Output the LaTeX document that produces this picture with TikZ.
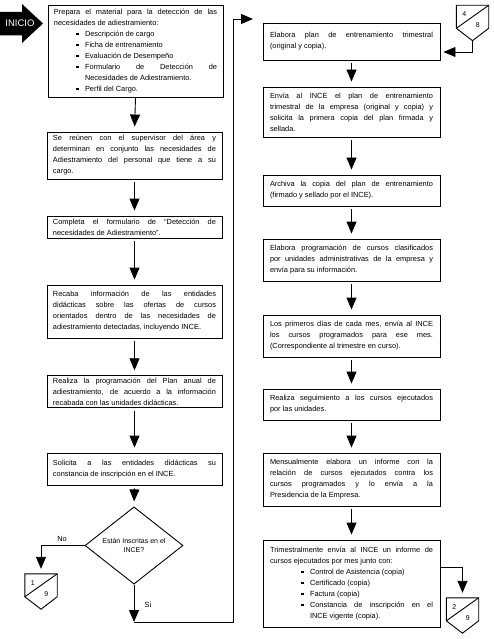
\documentclass[tikz,border=0pt]{standalone}
\usepackage{fontspec}
\setmainfont{Liberation Sans}
\usetikzlibrary{shapes.geometric,arrows.meta,calc}
\newcommand\bul[2]{\par\leftskip=#1\relax\noindent\llap{\rule[1.6bp]{2.3bp}{2.3bp}\hspace{6.5bp}}#2\par}
\newcommand\offpg[4]{%
  \node[opcbox] (#1) at (#2) {};
  \draw[opcline] (#1.north west) -- (#1.north east) -- ([yshift=-23bp]#1.north east) -- (#1.south) -- ([yshift=-23bp]#1.north west) -- cycle;
  \draw[opcline] ([yshift=-23bp]#1.north west) -- (#1.north east);
  \node[opcnum] (#1a) at ([xshift=8bp,yshift=-9bp]#1.north west) {#3};
  \node[opcnum] (#1b) at ([xshift=-11bp,yshift=-20bp]#1.north east) {#4};
}
\tikzset{
  txt/.style={font=\fontsize{7.4bp}{11bp}\selectfont},
  box/.style={draw, line width=0.9bp, text width=163bp, inner xsep=6bp, inner ysep=2bp, txt, align=justify,
    execute at begin node={\parindent=0pt\tolerance=10000\hyphenpenalty=10000\relax}},
  lbox/.style={box, minimum width=175bp},
  rbox/.style={box, minimum width=177bp},
  dec/.style={diamond, draw, line width=0.9bp, minimum width=98bp, minimum height=51bp, inner sep=0pt, align=center, font=\fontsize{7bp}{9bp}\selectfont},
  arr/.style={line width=0.9bp, -{Triangle[width=10bp,length=12bp]}, shorten <=3bp, shorten >=5bp},
  opcbox/.style={minimum width=32bp, minimum height=35bp, inner sep=0pt, draw=none},
  opcline/.style={line width=0.9bp, line join=miter},
  opcnum/.style={font=\fontsize{7bp}{8bp}\selectfont, inner sep=0pt},
  lab/.style={txt, inner sep=0pt}
}
\begin{document}
\begin{tikzpicture}[x=1bp,y=-1bp]
\fill[white] (0,0) rectangle (494,639);
\useasboundingbox (0,0) rectangle (494,639);

% INICIO arrow
\fill[black] (0,12) -- (22,12) -- (22,4) -- (43,23.5) -- (22,43) -- (22,35.5) -- (0,35.5) -- cycle;
\node[text=white, font=\fontsize{9.5bp}{10bp}\selectfont, inner sep=0pt] (inicio) at (20,23.5) {INICIO};

% left column
\node[lbox, minimum height=92bp] (b1) at (135.5,51) {Prepara el material para la detección de las\linebreak necesidades de adiestramiento:\par
\bul{31bp}{Descripción de cargo}
\bul{31bp}{Ficha de entrenamiento}
\bul{31bp}{Evaluación de Desempeño}
\bul{31bp}{Formulario de Detección de\linebreak Necesidades de Adiestramiento.}
\bul{31bp}{Perfil del Cargo.}};

\node[lbox, minimum height=47bp] (b2) at (134.5,155.5) {Se reúnen con el supervisor del área y\linebreak determinan en conjunto las necesidades de\linebreak Adiestramiento del personal que tiene a su\linebreak cargo.};

\node[lbox, minimum height=22bp] (b3) at (134.5,227) {Completa el formulario de “Detección de\linebreak necesidades de Adiestramiento”.};

\node[lbox, minimum height=53bp] (b4) at (134.5,311.5) {Recaba información de las entidades\linebreak didácticas sobre las ofertas de cursos\linebreak orientados dentro de las necesidades de\linebreak adiestramiento detectadas, incluyendo INCE.};

\node[lbox, minimum height=31bp] (b5) at (134.5,391.5) {Realiza la programación del Plan anual de\linebreak adiestramiento, de acuerdo a la información\linebreak recabada con las unidades didácticas.};

\node[lbox, minimum height=32bp] (b6) at (134.5,469) {Solicita a las entidades didácticas su\linebreak constancia de inscripción en el INCE.};

\node[dec] (d) at (134,545.5) {Están Inscritas en el\\INCE?};

\offpg{c19}{41,591.5}{1}{9}

% right column
\node[rbox, minimum height=37bp] (r1) at (351.5,41.5) {Elabora plan de entrenamiento trimestral\linebreak (original y copia).};

\node[rbox, minimum height=50bp] (r2) at (351.5,112) {Envía al INCE el plan de entrenamiento\linebreak trimestral de la empresa (original y copia) y\linebreak solicita la primera copia del plan firmada y\linebreak sellada.};

\node[rbox, minimum height=31bp] (r3) at (351.5,190.5) {Archiva la copia del plan de entrenamiento\linebreak (firmado y sellado por el INCE).};

\node[rbox, minimum height=42bp] (r4) at (351.5,260) {Elabora programación de cursos clasificados\linebreak por unidades administrativas de la empresa y\linebreak envía para su información.};

\node[rbox, minimum height=42bp] (r5) at (351.5,336) {Los primeros días de cada mes, envía al INCE\linebreak los cursos programados para ese mes.\linebreak (Correspondiente al trimestre en curso).};

\node[rbox, minimum height=31bp] (r6) at (351.5,404.5) {Realiza seguimiento a los cursos ejecutados\linebreak por las unidades.};

\node[rbox, minimum height=53bp] (r7) at (351.5,479.5) {Mensualmente elabora un informe con la\linebreak relación de cursos ejecutados contra los\linebreak cursos programados y lo envía a la\linebreak Presidencia de la Empresa.};

\node[rbox, minimum height=87bp] (r8) at (351.5,583.5) {Trimestralmente envía al INCE un informe de\linebreak cursos ejecutados por mes junto con:\par
\bul{40bp}{Control de Asistencia (copia)}
\bul{40bp}{Certificado (copia)}
\bul{40bp}{Factura (copia)}
\bul{40bp}{Constancia de inscripción en el\linebreak INCE vigente (copia).}};

\offpg{c48}{472.5,23}{4}{8}
\offpg{c29}{462.5,615.5}{2}{9}

% connectors left
\draw[arr, shorten <=0pt] (b1.south) -- (b2.north);
\draw[arr] (b2.south) -- (b3.north);
\draw[arr] (b3.south) -- (b4.north);
\draw[arr] (b4.south) -- (b5.north);
\draw[arr] (b5.south) -- (b6.north);
\draw[arr] (b6.south) -- (d.north);
\draw[arr, shorten <=0pt] (d.west) -| (c19.north);
\node[lab] (no) at (62,539) {No};

\coordinate (s1) at (134,622);
\coordinate (s2) at (233,622);
\coordinate (s3) at (233,19);
\coordinate (s4) at (253,19);
\draw[arr, shorten <=0pt, shorten >=0pt] (d.south) -- (s1);
\draw[arr, shorten <=0pt, shorten >=0pt] (s1) -- (s2) -- (s3) -- (s4);
\node[lab] (si) at (148,605) {Si};

% connectors right
\draw[arr, shorten <=0pt, shorten >=3bp] (c48.south) |- ([yshift=-10.5bp]r1.east);
\draw[arr] (r1.south) -- (r2.north);
\draw[arr] (r2.south) -- (r3.north);
\draw[arr] (r3.south) -- (r4.north);
\draw[arr] (r4.south) -- (r5.north);
\draw[arr] (r5.south) -- (r6.north);
\draw[arr] (r6.south) -- (r7.north);
\draw[arr] (r7.south) -- (r8.north);
\draw[arr, shorten <=0pt] ([yshift=16.5bp]r8.east) -| (c29.north);
\end{tikzpicture}
\end{document}
